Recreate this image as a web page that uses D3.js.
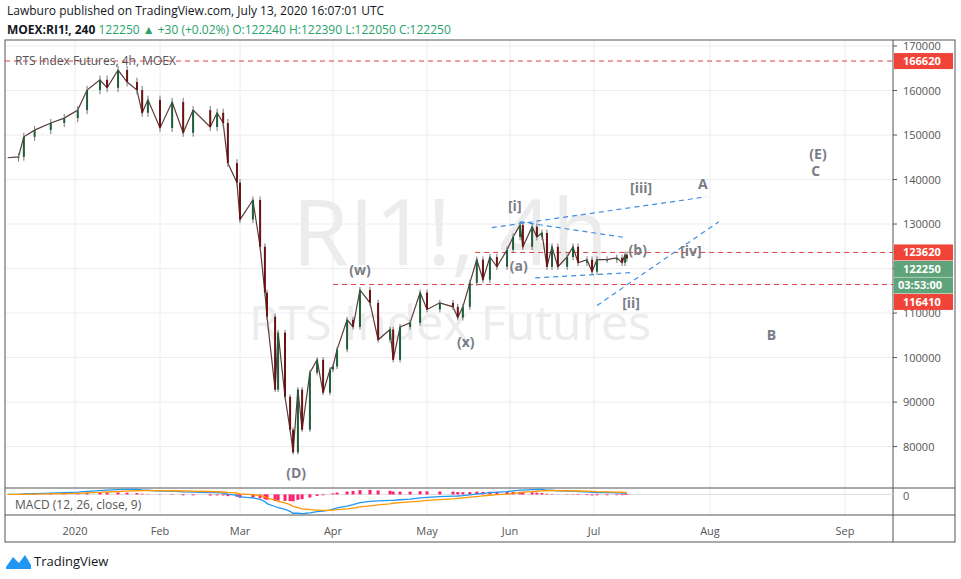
<!DOCTYPE html>
<html><head><meta charset="utf-8">
<script src="https://cdn.jsdelivr.net/npm/d3@7"></script>
<style>body{margin:0;background:#fff;font-family:"Open Sans",sans-serif}</style>
</head><body><svg id="chart" width="961" height="579"></svg>
<script>
// day number since Jan 1 2020, approx close
const days = [-25,-21,-19,-15,-9,-4,1,4.4,9.1,11.7,15.7,19,22.6,24.5,26.6,31,35.4,39.4,43,49.2,51.7,53.9,55.6,58.9,60,64.3,66.7,68.3,69,71.7,72.7,75,76.7,77.7,79.3,80.7,83.3,85.7,87.7,90,91,92.3,95.5,97.4,99.6,102.8,105.4,109.2,110.2,112.4,115.6,118.8,121,125.8,130.7,132.5,134.4,137,139.6,141.9,144.5,147.1,150.9,153.1,155.6,156.6,159.9,161.6,163.4,165.2,167,169.1,172.4,174.5,176.3,179.5,181.3,182.8,185.5,188.1,189.5,190.3,190.8];
const closes = [144900,145100,149600,151100,152700,153800,155600,160100,162400,160600,164600,161900,160100,155000,157900,151600,157400,150500,155600,151800,155000,152700,143700,139300,131000,135400,124900,114600,109200,92800,105600,91200,83800,78700,92800,83800,96600,99500,92100,97300,98000,101800,108500,106900,115200,112300,104000,106300,99500,106900,107800,114600,110800,112300,111400,109000,111400,116800,122000,117500,122600,120400,124200,127100,129800,124900,129400,127100,128000,120400,124900,120400,122600,124900,121300,122000,119300,122000,122000,122400,121300,123100,122250];

const monthDays = [-26,0,31,60,91,121,152,182,213,244,275];
const monthPx   = [5,75,160,240,333,427,510,594,710,845,980];
const monthLabels = ["","2020","Feb","Mar","Apr","May","Jun","Jul","Aug","Sep",""];
const priceTicks = [80000,90000,100000,110000,120000,130000,140000,150000,160000,170000];
const levels = [166620,123620,116410];
const levelStart = [-26,139,91];
const tagText = ["166620","123620","122250","03:53:00","116410"];
const tagColor = ["#f04438","#f04438","#5fa37a","#5fa37a","#f04438"];

const waveText = ["(D)","(w)","(x)","[i]","(a)","(b)","[ii]","[iii]","[iv]","A","(E)","C","B"];
const waveDay  = [78.7,99.6,135.5,153.7,155.1,193.7,191.9,194.6,207.9,211.1,237.8,237.3,227.1];
const wavePrice= [74000,119700,103600,134100,120600,124200,112300,138100,124000,139000,145800,142000,105100];

const trendLines = [
  [[145.2,129200],[211.9,136100]],
  [[155.6,130500],[190.8,126900]],
  [[161,117900],[192.4,119100]],
  [[182.8,111700],[215,130500]]
];

const svg = d3.select("#chart");
const x = d3.scaleLinear().domain(monthDays).range(monthPx);
const y = d3.scaleLinear().domain([80000,170000]).range([446.6,46]);
const L = 5, R = 893, T = 40, B = 488;

svg.append("text").attr("x",7).attr("y",15).attr("font-size",12).attr("fill","#131722")
  .text("Lawburo published on TradingView.com, July 13, 2020 16:07:01 UTC");
const hdr = svg.append("text").attr("x",7).attr("y",34).attr("font-size",12).attr("fill","#131722");
hdr.append("tspan").attr("font-weight","bold").text("MOEX:RI1!, 240 ");
hdr.append("tspan").attr("fill","#26a269").text("122250 ▲ +30 (+0.02%) O:122240 H:122390 L:122050 C:122250");

svg.append("clipPath").attr("id","c").append("rect").attr("x",L).attr("y",T).attr("width",R-L).attr("height",B-T);

// grid
const grid = svg.append("g").attr("stroke","#ececec");
grid.selectAll(".h").data(priceTicks).join("line").attr("x1",L).attr("x2",R).attr("y1",d=>y(d)).attr("y2",d=>y(d));
grid.selectAll(".v").data(monthDays.slice(1,10)).join("line").attr("x1",d=>x(d)).attr("x2",d=>x(d)).attr("y1",T).attr("y2",515);

// watermark
svg.append("text").attr("x",450).attr("y",265).attr("text-anchor","middle").attr("font-size",92).attr("fill","#ececec").text("RI1!, 4h");
svg.append("text").attr("x",450).attr("y",340).attr("text-anchor","middle").attr("font-size",48).attr("fill","#ececec").text("RTS Index Futures");

// frame
svg.append("rect").attr("x",L).attr("y",T).attr("width",955-L).attr("height",542-T).attr("fill","none").attr("stroke","#555");
svg.append("line").attr("x1",R).attr("x2",R).attr("y1",T).attr("y2",542).attr("stroke","#555");
svg.append("line").attr("x1",L).attr("x2",955).attr("y1",B).attr("y2",B).attr("stroke","#555");
svg.append("line").attr("x1",L).attr("x2",955).attr("y1",515).attr("y2",515).attr("stroke","#555");

// levels
svg.selectAll(".lv").data(levels).join("line").attr("x1",(d,i)=>x(levelStart[i])).attr("x2",R)
  .attr("y1",d=>y(d)).attr("y2",d=>y(d)).attr("stroke","#e04040").attr("stroke-dasharray","5,4");
svg.append("text").attr("x",15).attr("y",65).attr("font-size",12).attr("fill","#555").text("RTS Index Futures, 4h, MOEX");

// candles
const g = svg.append("g").attr("clip-path","url(#c)");
const candles = closes.slice(1).map((c,i)=>({d:days[i+1],p:days[i],o:closes[i],c:c}));
g.append("path").attr("d",d3.line().x((d,i)=>x(days[i])).y(d=>y(d))(closes)).attr("fill","none").attr("stroke","#5a3a3a").attr("stroke-width",1.2);
g.selectAll(".w").data(candles).join("line").attr("x1",d=>x(d.d)).attr("x2",d=>x(d.d))
  .attr("y1",d=>y(Math.max(d.o,d.c)*1.006)).attr("y2",d=>y(Math.min(d.o,d.c)*0.994)).attr("stroke","#777");
g.selectAll(".b").data(candles).join("rect").attr("x",d=>x(d.d)-1).attr("width",2)
  .attr("y",d=>y(Math.max(d.o,d.c))).attr("height",d=>Math.max(1,Math.abs(y(d.o)-y(d.c))))
  .attr("fill",d=>d.c>=d.o?"#1f5e3a":"#6b1212");

// trend lines
svg.selectAll(".tl").data(trendLines).join("line")
  .attr("x1",d=>x(d[0][0])).attr("y1",d=>y(d[0][1])).attr("x2",d=>x(d[1][0])).attr("y2",d=>y(d[1][1]))
  .attr("stroke","#3d8fe0").attr("stroke-dasharray","5,4").attr("stroke-width",1.2);

// wave labels
svg.selectAll(".wv").data(waveText).join("text").attr("x",(d,i)=>x(waveDay[i])).attr("y",(d,i)=>y(wavePrice[i])+5)
  .attr("text-anchor","middle").attr("font-size",14).attr("font-weight","bold").attr("fill","#7a7d85").text(d=>d);

// right axis
const ax = svg.append("g").attr("font-size",11).attr("fill","#555");
ax.selectAll("text").data(priceTicks).join("text").attr("x",903).attr("y",d=>y(d)+4).text(d=>d);
ax.selectAll("line").data(priceTicks).join("line").attr("x1",R).attr("x2",R+4).attr("y1",d=>y(d)).attr("y2",d=>y(d)).attr("stroke","#555");
svg.append("text").attr("x",903).attr("y",500).attr("font-size",11).attr("fill","#555").text("0");
// stacked price tags: first at its level, the rest stacked under 123620
const tagY = tagText.map((t,i)=> i===0 ? y(levels[0]) : y(levels[1]) + (i-1)*16.5);
const tg = svg.selectAll(".tg").data(tagText).join("g").attr("transform",(d,i)=>`translate(${R+1},${tagY[i]})`);
tg.append("rect").attr("x",0).attr("y",-8).attr("width",59).attr("height",16).attr("fill",(d,i)=>tagColor[i]);
tg.append("text").attr("x",(d,i)=>i===3?4:9).attr("y",4).attr("font-size",11).attr("font-weight","bold").attr("fill","#fff").text(d=>d);

// month labels
svg.selectAll(".ml").data(monthLabels).join("text").attr("x",(d,i)=>monthPx[i]).attr("y",535)
  .attr("text-anchor","middle").attr("font-size",11).attr("fill","#555").text(d=>d);

// MACD computed from closes
function ema(a,n){const k=2/(n+1);let e=a[0];return a.map(v=>e=v*k+e*(1-k));}
const e26 = ema(closes,26);
const macd = ema(closes,12).map((v,i)=>v-e26[i]);
const sig = ema(macd,9);
const my = d3.scaleLinear().domain([-16000,4000]).range([512,490]);
svg.append("clipPath").attr("id","c2").append("rect").attr("x",L).attr("y",B).attr("width",R-L).attr("height",27);
const mg = svg.append("g").attr("clip-path","url(#c2)");
mg.append("line").attr("x1",L).attr("x2",R).attr("y1",my(0)).attr("y2",my(0)).attr("stroke","#ddd");
mg.selectAll("rect").data(macd).join("rect").attr("x",(d,i)=>x(days[i])-1.5).attr("width",3)
  .attr("y",(d,i)=>Math.min(my(0),my(d-sig[i]))).attr("height",(d,i)=>Math.abs(my(d-sig[i])-my(0))).attr("fill","#ff1f6b");
const line = d3.line().x((d,i)=>x(days[i])).y(d=>my(d));
mg.append("path").attr("d",line(macd)).attr("fill","none").attr("stroke","#2196f3").attr("stroke-width",1.3);
mg.append("path").attr("d",line(sig)).attr("fill","none").attr("stroke","#ff9800").attr("stroke-width",1.3);
svg.append("text").attr("x",15).attr("y",509).attr("font-size",12).attr("fill","#555").text("MACD (12, 26, close, 9)");

// footer
svg.append("path").attr("d","M6,567 L13,557 L19,563 L25,555 L31,565 L31,569 L6,569Z").attr("fill","#2196f3");
svg.append("text").attr("x",34).attr("y",566).attr("font-size",13).attr("fill","#131722").text("TradingView");
</script></body></html>
